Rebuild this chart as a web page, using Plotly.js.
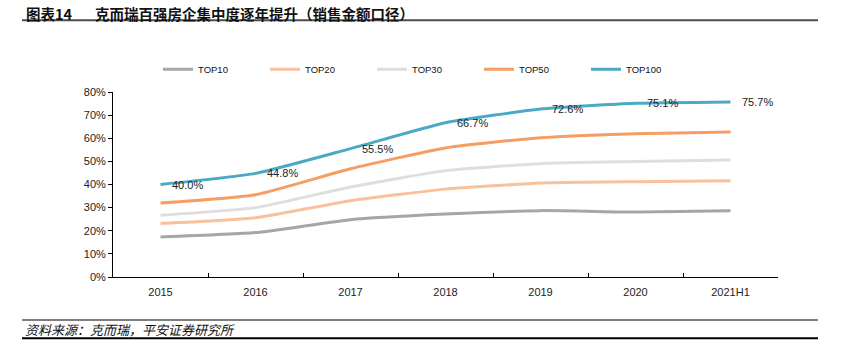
<!DOCTYPE html>
<html>
<head>
<meta charset="utf-8">
<script src="https://cdn.plot.ly/plotly-3.0.1.min.js"></script>
<style>html,body{margin:0;padding:0;background:#fff;}#chart{width:843px;height:358px;}</style>
</head>
<body>
<div id="chart"></div>
<script>
// ---- data ----
const categories = ['2015', '2016', '2017', '2018', '2019', '2020', '2021H1'];
const top10  = [17.3, 19.2, 24.8, 27.2, 28.7, 28.1, 28.6];
const top20  = [23.1, 25.6, 33.0, 38.0, 40.6, 41.2, 41.6];
const top30  = [26.7, 30.0, 38.9, 46.0, 49.0, 49.9, 50.6];
const top50  = [32.0, 35.6, 46.8, 55.8, 60.2, 62.0, 62.7];
const top100 = [40.0, 44.8, 55.5, 66.7, 72.6, 75.1, 75.7];
const seriesNames = ['TOP10', 'TOP20', 'TOP30', 'TOP50', 'TOP100'];
const yTickVals = [0, 10, 20, 30, 40, 50, 60, 70, 80];
const yTickText = ['0%', '10%', '20%', '30%', '40%', '50%', '60%', '70%', '80%'];

// ---- styles ----
const colors = ['#a6a6a6', '#f9c19b', '#dedede', '#f59d63', '#4aa9c4'];
const seriesData = [top10, top20, top30, top50, top100];

const W = 843, H = 358;
const L = 113, R = 778, T = 91.7, B = 276.7;
const px = x => (x - L) / (R - L);
const py = y => (B - y) / (B - T);

const traces = seriesData.map((vals, i) => ({
  type: 'scatter',
  mode: 'lines',
  x: categories,
  y: vals,
  name: seriesNames[i],
  line: {color: colors[i], width: 3, shape: 'spline', smoothing: 0.5},
  hoverinfo: 'skip'
}));

const font = 'Liberation Sans, Arial, sans-serif';
const cjk = '"Noto Sans CJK SC", "Noto Sans", sans-serif';

const annotations = top100.map((v, i) => ({
  x: i, y: v, xref: 'x', yref: 'y',
  text: v.toFixed(1) + '%',
  showarrow: false, xanchor: 'left', yanchor: 'middle',
  xshift: 9, font: {family: font, size: 11, color: '#222'}
}));

annotations.push({
  xref: 'paper', yref: 'paper', x: px(24), y: py(13),
  text: '<b>图表14</b>', showarrow: false, xanchor: 'left', yanchor: 'middle',
  font: {family: cjk, size: 14.5, color: '#111'}
});
annotations.push({
  xref: 'paper', yref: 'paper', x: px(93), y: py(13),
  text: '<b>克而瑞百强房企集中度逐年提升（销售金额口径）</b>', showarrow: false, xanchor: 'left', yanchor: 'middle',
  font: {family: cjk, size: 14.5, color: '#111'}
});
annotations.push({
  xref: 'paper', yref: 'paper', x: px(23), y: py(329),
  text: '<i>资料来源：克而瑞，平安证券研究所</i>', showarrow: false, xanchor: 'left', yanchor: 'middle',
  font: {family: cjk, size: 13, color: '#111'}
});

const shapes = [
  {type: 'line', xref: 'paper', yref: 'paper', x0: px(22), x1: px(818), y0: py(20), y1: py(20), line: {color: '#4d4d4d', width: 2}},
  {type: 'line', xref: 'paper', yref: 'paper', x0: px(22), x1: px(818), y0: py(319.7), y1: py(319.7), line: {color: '#555', width: 1.5}},
  {type: 'line', xref: 'paper', yref: 'paper', x0: px(22), x1: px(818), y0: py(338), y1: py(338), line: {color: '#000', width: 2}}
];

const layout = {
  width: W, height: H,
  margin: {l: L, r: W - R, t: T, b: H - B, pad: 0},
  paper_bgcolor: '#fff', plot_bgcolor: '#fff',
  showlegend: true,
  legend: {
    orientation: 'h', x: px(158), y: py(69), xanchor: 'left', yanchor: 'middle',
    font: {family: font, size: 9.5, color: '#111'},
    entrywidth: 62, entrywidthmode: 'pixels', itemwidth: 30,
    bgcolor: 'rgba(0,0,0,0)'
  },
  xaxis: {
    type: 'category', showgrid: false, zeroline: false,
    showline: true, linecolor: '#000', linewidth: 1,
    ticks: 'inside', ticklen: 4, tickcolor: '#000', tickson: 'boundaries',
    tickfont: {family: font, size: 11, color: '#222'}, ticklabelstandoff: 5,
    range: [-0.5, categories.length - 0.5], fixedrange: true
  },
  yaxis: {
    range: [0, 80], tickmode: 'array', tickvals: yTickVals, ticktext: yTickText,
    showgrid: false, zeroline: false,
    showline: true, linecolor: '#000', linewidth: 1,
    ticks: 'outside', ticklen: 4, tickcolor: '#000',
    tickfont: {family: font, size: 11, color: '#222'}, fixedrange: true
  },
  annotations: annotations,
  shapes: shapes
};

Plotly.newPlot('chart', traces, layout, {displayModeBar: false, staticPlot: true});
</script>
</body>
</html>
